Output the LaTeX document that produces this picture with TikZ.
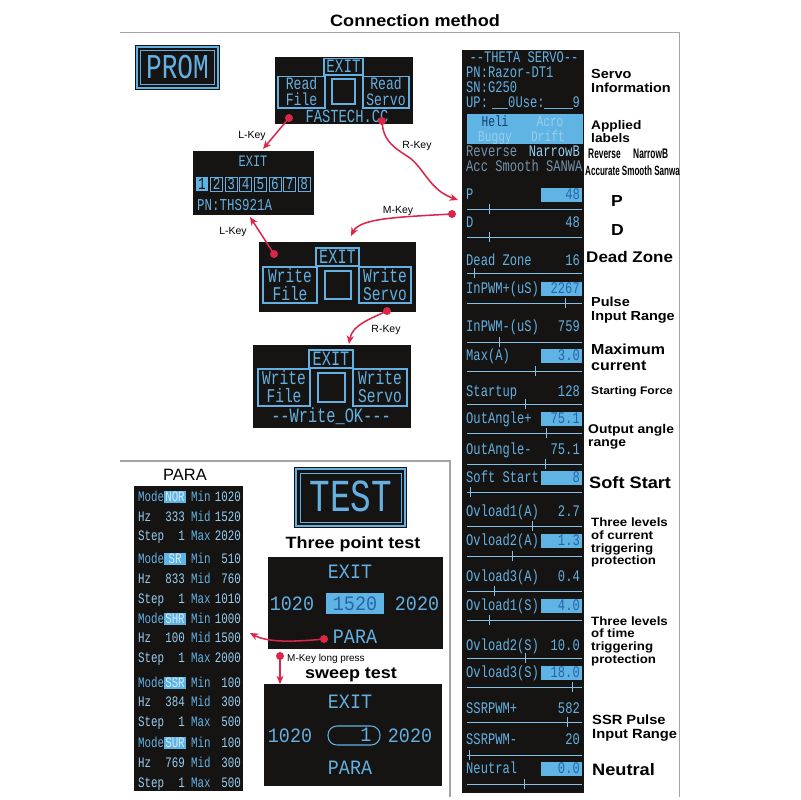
\documentclass[tikz,border=0pt]{standalone}
\usepackage{fontspec}
\setmainfont{Liberation Sans}
\newfontfamily\lblfont[FakeStretch=1.1]{Liberation Sans}
\newfontfamily\narrowfont[FakeStretch=0.6]{Liberation Sans}
\newfontfamily\scrfont[FakeStretch=0.75,Ligatures=TeXOff]{Liberation Mono}
\newfontfamily\scrwide[FakeStretch=0.9,Ligatures=TeXOff]{Liberation Mono}
\usetikzlibrary{arrows.meta}
\newcommand\px[1]{\fontsize{\dimexpr #1pt*85/100\relax}{\dimexpr #1pt\relax}\selectfont}
\newcommand\cc[1]{\raisebox{-0.34em}[0pt][0pt]{#1}}
\newcommand\cm[1]{\raisebox{-0.30em}[0pt][0pt]{#1}}
\definecolor{scrbg}{RGB}{22,20,18}
\definecolor{scrblue}{RGB}{100,176,226}
\definecolor{hlblue}{RGB}{95,180,228}
\definecolor{hltext}{RGB}{40,100,170}
\definecolor{modetext}{RGB}{210,235,250}
\definecolor{navy}{RGB}{25,60,110}
\definecolor{faint}{RGB}{155,205,235}
\definecolor{dimblue}{RGB}{115,145,170}
\definecolor{bright}{RGB}{150,205,240}
\definecolor{keyred}{RGB}{218,38,72}
\definecolor{framec}{RGB}{165,165,165}
\begin{document}
\begin{tikzpicture}[x=0.3mm,y=-0.3mm,
  sline/.style={draw=scrblue, line width=0.9pt},
  st/.style={inner sep=0pt, text=scrblue},
  lbl/.style={inner sep=0pt, anchor=base west, text=black, font=\lblfont\bfseries},
  key/.style={draw=keyred, line width=1.3pt, -{Stealth[length=7pt,width=6pt,inset=2pt]}},
  keylbl/.style={inner sep=0pt, anchor=base, font=\px{10.5}},
  framel/.style={draw=framec, line width=0.9pt}]
\fill[white] (0,0) rectangle (800,800);
\useasboundingbox (0,0) rectangle (800,800);

% title and frames
\node[lbl, anchor=base] (title) at (415,21) {\px{16.5}\cc{Connection method}};
\draw[framel] (120,32.5) -- (679.5,32.5) -- (679.5,797);
\draw[framel] (120,461) -- (450,461) -- (450,797);

% PROM
\fill[scrbg] (135,45) rectangle (220,90);
\draw[sline, line width=1.2pt] (137,47) rectangle (218,88);
\draw[sline, line width=0.8pt] (140.5,50.5) rectangle (214.5,84.5);
\node[st, anchor=base, font=\scrfont\px{35}] (prom) at (177.5,68) {\cm{PROM}};

% Read screen
\fill[scrbg] (275,57) rectangle (413,124);
\draw[sline] (324,58.5) rectangle (363,75);
\draw[sline] (278,76.5) rectangle (325,108);
\draw[sline] (332,79) rectangle (355,104);
\draw[sline] (363,76.5) rectangle (409,108);
\node[st,anchor=base,font=\scrfont\px{19}] (rexit) at (343.5,66.5) {\cm{EXIT}};
\node[st,anchor=base,font=\scrfont\px{17.5}] (rread1) at (301.5,84) {\cm{Read}};
\node[st,anchor=base,font=\scrfont\px{17.5}] (rfile) at (301.5,100.5) {\cm{File}};
\node[st,anchor=base,font=\scrfont\px{17.5}] (rread2) at (386,84) {\cm{Read}};
\node[st,anchor=base,font=\scrfont\px{17.5}] (rservo) at (386,100.5) {\cm{Servo}};
\node[st,anchor=base,font=\scrfont\px{18.5}] (rfast) at (347,116.5) {\cm{FASTECH.CC}};

% number screen
\fill[scrbg] (193,151) rectangle (314,215);
\node[st,anchor=base,font=\scrfont\px{16}] (nexit) at (253,162) {\cm{EXIT}};
\foreach \i in {1,...,8} {
  \pgfmathsetmacro\bx{196+(\i-1)*14.6}
  \ifnum\i=1
    \fill[hlblue] (\bx,177) rectangle ++(12,14);
    \node[st,anchor=base,font=\scrfont\px{17},text=scrbg] (nb\i) at (\bx+6,184) {\cm{\i}};
  \else
    \draw[sline, line width=0.8pt] (\bx,177) rectangle ++(12,14);
    \node[st,anchor=base,font=\scrfont\px{17}] (nb\i) at (\bx+6,184) {\cm{\i}};
  \fi
}
\node[st,anchor=base west,font=\scrfont\px{16.7}] (npn) at (197,206) {\cm{PN:THS921A}};

% Write screen
\fill[scrbg] (259,242) rectangle (416,312);
\draw[sline] (316,248) rectangle (359,266);
\draw[sline] (263,267) rectangle (317,303);
\draw[sline] (325,271) rectangle (351,299);
\draw[sline] (359,267) rectangle (411,303);
\node[st,anchor=base,font=\scrfont\px{20.5}] (wexit) at (337.5,257) {\cm{EXIT}};
\node[st,anchor=base,font=\scrfont\px{19.5}] (wwrite1) at (290,277) {\cm{Write}};
\node[st,anchor=base,font=\scrfont\px{19.5}] (wfile) at (290,295) {\cm{File}};
\node[st,anchor=base,font=\scrfont\px{19.5}] (wwrite2) at (385,277) {\cm{Write}};
\node[st,anchor=base,font=\scrfont\px{19.5}] (wservo) at (385,295) {\cm{Servo}};

% Write OK screen
\fill[scrbg] (253,345) rectangle (411,428);
\draw[sline] (309,350) rectangle (353,368);
\draw[sline] (258,369) rectangle (310,406);
\draw[sline] (318,373) rectangle (345,402);
\draw[sline] (353,369) rectangle (407,406);
\node[st,anchor=base,font=\scrfont\px{20.5}] (oexit) at (331,359) {\cm{EXIT}};
\node[st,anchor=base,font=\scrfont\px{19.5}] (owrite1) at (284,378.5) {\cm{Write}};
\node[st,anchor=base,font=\scrfont\px{19.5}] (ofile) at (284,397) {\cm{File}};
\node[st,anchor=base,font=\scrfont\px{19.5}] (owrite2) at (380,378.5) {\cm{Write}};
\node[st,anchor=base,font=\scrfont\px{19.5}] (oservo) at (380,397) {\cm{Servo}};
\node[st,anchor=base,font=\scrfont\px{20.5}] (ook) at (331,416.5) {\cm{--Write\_OK---}};

% right column screen
\fill[scrbg] (462,50) rectangle (584,793);
\node[st,anchor=base,font=\scrfont\px{16.2}] (tth) at (524,58) {\cm{--THETA SERVO--}};
\node[st,anchor=base west,font=\scrfont\px{16.2}] (tpn) at (466,73) {\cm{PN:Razor-DT1}};
\node[st,anchor=base west,font=\scrfont\px{16.2}] (tsn) at (466,88) {\cm{SN:G250}};
\node[st,anchor=base west,font=\scrfont\px{16.2}] (tup) at (466,103) {\cm{UP:}};
\node[st,anchor=base west,font=\scrfont\px{16.2}] (tuse) at (508,103) {\cm{0Use:}};
\node[st,anchor=base east,font=\scrfont\px{16.2}] (tnine) at (580,103) {\cm{9}};
\draw[scrblue, line width=0.7pt] (492,108.5) -- (508,108.5) (544,108.5) -- (573,108.5);
\fill[hlblue] (467,114) rectangle (583,144);
\node[st,anchor=base,font=\scrfont\px{15},text=navy] (theli) at (495,122) {\cm{Heli}};
\node[st,anchor=base,font=\scrfont\px{15},text=faint] (tacro) at (550,122) {\cm{Acro}};
\node[st,anchor=base,font=\scrfont\px{15},text=faint] (tbug) at (495,137) {\cm{Buggy}};
\node[st,anchor=base,font=\scrfont\px{15},text=faint] (tdrift) at (548,137) {\cm{Drift}};
\node[st,anchor=base west,font=\scrfont\px{16.2},text=dimblue] (trev) at (466,152) {\cm{Reverse}};
\node[st,anchor=base east,font=\scrfont\px{16.2},text=bright] (tnar) at (580,152) {\cm{NarrowB}};
\node[st,anchor=base west,font=\scrfont\px{16.2},text=dimblue] (tacc) at (466,166.5) {\cm{Acc Smooth SANWA}};

\foreach \l/\v/\h/\y/\s/\t [count=\k] in {
  P/48/1/195/209/489, D/48/0/223/237/489, Dead Zone/16/0/261/273/474,
  InPWM+(uS)/2267/1/289/303/565, InPWM-(uS)/759/0/327/342/499,
  Max(A)/3.0/1/356/371/535, Startup/128/0/392/404/525,
  OutAngle+/75.1/1/419/433/546, OutAngle-/75.1/0/450/464/545,
  Soft Start/8/1/478/492/470, Ovload1(A)/2.7/0/512/526/532,
  Ovload2(A)/1.3/1/541/556/512, Ovload3(A)/0.4/0/577/591/494,
  Ovload1(S)/4.0/1/606/620/489, Ovload2(S)/10.0/0/646/658/525,
  Ovload3(S)/18.0/1/673/687/572, SSRPWM+/582/0/709/722/567,
  SSRPWM-/20/0/740/755/469, Neutral/0.0/1/769/784/524} {
  \node[st,anchor=base west,font=\scrfont\px{16.2}] (rowl\k) at (466,\y) {\cm{\l}};
  \ifnum\h=1
    \fill[hlblue] (541,\y-7) rectangle (582,\y+7);
    \node[st,anchor=base east,font=\scrfont\px{16.2},text=hltext] (rowv\k) at (580,\y) {\cm{\v}};
  \else
    \node[st,anchor=base east,font=\scrfont\px{16.2}] (rowv\k) at (580,\y) {\cm{\v}};
  \fi
  \draw[scrblue!80, line width=0.8pt] (467,\s) -- (582,\s) (\t,\s-5) -- (\t,\s+5);
}

% right labels
\node[lbl] (lserv) at (591,74) {\px{13.2}\cc{Servo}};
\node[lbl] (linfo) at (591,88) {\px{13.2}\cc{Information}};
\node[lbl] (lapp) at (591,125) {\px{12.5}\cc{Applied}};
\node[lbl] (llab) at (591,138) {\px{12.5}\cc{labels}};
\node[inner sep=0pt,anchor=base west,font=\narrowfont\bfseries] (lrev) at (588,154) {\px{14}\cc{Reverse}};
\node[inner sep=0pt,anchor=base west,font=\narrowfont\bfseries] (lnar) at (633,154) {\px{14}\cc{NarrowB}};
\node[inner sep=0pt,anchor=base west,font=\narrowfont\bfseries] (lacc) at (585,171) {\px{13.5}\cc{Accurate Smooth Sanwa}};
\node[lbl] (lp) at (611,201) {\px{16}\cc{P}};
\node[lbl] (ld) at (611,230) {\px{16}\cc{D}};
\node[lbl] (ldz) at (586,257) {\px{15.5}\cc{Dead Zone}};
\node[lbl] (lpul) at (591,302) {\px{13.2}\cc{Pulse}};
\node[lbl] (linr) at (591,316) {\px{13.2}\cc{Input Range}};
\node[lbl] (lmax) at (591,350) {\px{14.6}\cc{Maximum}};
\node[lbl] (lcur) at (591,366) {\px{14.6}\cc{current}};
\node[lbl] (lsf) at (591,391) {\px{11}\cc{Starting Force}};
\node[lbl] (loa) at (588,429) {\px{12.7}\cc{Output angle}};
\node[lbl] (lrng) at (588,442) {\px{12.7}\cc{range}};
\node[lbl] (lss) at (589,483) {\px{16.6}\cc{Soft Start}};
\node[lbl] (lc1) at (591,522) {\px{12.1}\cc{Three levels}};
\node[lbl] (lc2) at (591,535) {\px{12.1}\cc{of current}};
\node[lbl] (lc3) at (591,548) {\px{12.1}\cc{triggering}};
\node[lbl] (lc4) at (591,560) {\px{12.1}\cc{protection}};
\node[lbl] (lt1) at (591,621) {\px{12.1}\cc{Three levels}};
\node[lbl] (lt2) at (591,633) {\px{12.1}\cc{of time}};
\node[lbl] (lt3) at (591,646) {\px{12.1}\cc{triggering}};
\node[lbl] (lt4) at (591,659) {\px{12.1}\cc{protection}};
\node[lbl] (lssr) at (592,720) {\px{13.4}\cc{SSR Pulse}};
\node[lbl] (lssr2) at (592,734) {\px{13.4}\cc{Input Range}};
\node[lbl] (lneu) at (592,770) {\px{16.6}\cc{Neutral}};

% PARA
\node[inner sep=0pt,anchor=base] (paralbl) at (185,475) {\px{16.5}\cc{PARA}};
\fill[scrbg] (134,486) rectangle (243,791);
\foreach \m/\mn/\hz/\md/\mx/\ya/\yb/\yc [count=\g] in {
  NOR/1020/333/1520/2020/497/517/536, SR/510/833/760/1010/559/579/599,
  SHR/1000/100/1500/2000/619/638/658, SSR/100/384/300/500/683/702/722,
  SUR/100/769/300/500/743/763/783} {
  \fill[hlblue] (164,\ya-6) rectangle (186,\ya+6);
  \node[st,anchor=base west,font=\scrfont\px{14.5}] (pmode\g) at (138,\ya) {\cm{Mode}};
  \node[st,anchor=base,font=\scrfont\px{14.5},text=modetext] (pmv\g) at (175,\ya) {\cm{\m}};
  \node[st,anchor=base west,font=\scrfont\px{14.5}] (pmin\g) at (191,\ya) {\cm{Min}};
  \node[st,anchor=base east,font=\scrfont\px{14.5},text=bright] (pminv\g) at (241,\ya) {\cm{\mn}};
  \node[st,anchor=base west,font=\scrfont\px{14.5},text=bright] (phz\g) at (138,\yb) {\cm{Hz}};
  \node[st,anchor=base east,font=\scrfont\px{14.5},text=bright] (phzv\g) at (185,\yb) {\cm{\hz}};
  \node[st,anchor=base west,font=\scrfont\px{14.5}] (pmid\g) at (191,\yb) {\cm{Mid}};
  \node[st,anchor=base east,font=\scrfont\px{14.5},text=bright] (pmidv\g) at (241,\yb) {\cm{\md}};
  \node[st,anchor=base west,font=\scrfont\px{14.5},text=bright] (pstep\g) at (138,\yc) {\cm{Step}};
  \node[st,anchor=base east,font=\scrfont\px{14.5},text=bright] (pstepv\g) at (185,\yc) {\cm{1}};
  \node[st,anchor=base west,font=\scrfont\px{14.5}] (pmax\g) at (191,\yc) {\cm{Max}};
  \node[st,anchor=base east,font=\scrfont\px{14.5},text=bright] (pmaxv\g) at (241,\yc) {\cm{\mx}};
}

% TEST
\fill[scrbg] (294,467) rectangle (407,528);
\draw[sline, line width=1.2pt] (296,469) rectangle (405,526);
\draw[sline, line width=0.8pt] (300,473) rectangle (401,522);
\node[st,anchor=base,font=\scrfont\px{46}] (test) at (351,497.5) {\cm{TEST}};

% three point test
\node[lbl,anchor=base] (l3pt) at (353,543) {\px{16.4}\cc{Three point test}};
\fill[scrbg] (268,557) rectangle (443,649);
\node[st,anchor=base,font=\scrwide\px{20.5}] (texit) at (350,572) {\cm{EXIT}};
\node[st,anchor=base,font=\scrwide\px{20.5}] (t1020) at (292,604) {\cm{1020}};
\fill[hlblue] (326,593) rectangle (384,614);
\node[st,anchor=base,font=\scrwide\px{20.5},text=hltext] (t1520) at (355,604) {\cm{1520}};
\node[st,anchor=base,font=\scrwide\px{20.5}] (t2020) at (417,604) {\cm{2020}};
\node[st,anchor=base,font=\scrwide\px{20.5}] (tpara) at (355,637) {\cm{PARA}};

% sweep test
\node[lbl,anchor=base] (lsw) at (351,673) {\px{16.4}\cc{sweep test}};
\fill[scrbg] (264,684) rectangle (442,786);
\node[st,anchor=base,font=\scrwide\px{20.5}] (sexit) at (350,702) {\cm{EXIT}};
\node[st,anchor=base,font=\scrwide\px{20.5}] (s1020) at (290,736) {\cm{1020}};
\draw[sline, rounded corners=2.7mm] (328,726) rectangle (380,745);
\node[st,anchor=base,font=\scrwide\px{20.5}] (sone) at (366,735) {\cm{1}};
\node[st,anchor=base,font=\scrwide\px{20.5}] (s2020) at (410,736) {\cm{2020}};
\node[st,anchor=base,font=\scrwide\px{20.5}] (spara) at (350,768) {\cm{PARA}};

% connectors
\coordinate (dL1) at (289,118); \coordinate (tL1) at (263,149);
\coordinate (dR1) at (382,121); \coordinate (tR1) at (458,200);
\coordinate (dM) at (452,214);  \coordinate (tM) at (351,236);
\coordinate (dL2) at (274,254); \coordinate (tL2) at (250,217);
\coordinate (dR2) at (387,311); \coordinate (tR2) at (349,344);
\coordinate (dP) at (324,639);  \coordinate (tP) at (250,633);
\coordinate (dLP) at (280,656); \coordinate (tLP) at (280,684);
\draw[key] (dL1) -- (tL1);
\draw[key] (dR1) .. controls (383,142) and (395,148) .. (410,158) .. controls (425,170) and (430,190) .. (tR1);
\draw[key] (dM) .. controls (400,217) and (360,218) .. (tM);
\draw[key] (dL2) -- (tL2);
\draw[key] (dR2) .. controls (372,318) and (352,325) .. (tR2);
\draw[key] (dP) .. controls (285,643) and (265,641) .. (tP);
\draw[key] (dLP) -- (tLP);
\foreach \d in {dL1,dR1,dM,dL2,dR2,dP,dLP} \fill[keyred] (\d) circle[radius=1.2mm];
\node[keylbl] (kL1) at (252,135) {\cc{L-Key}};
\node[keylbl] (kR1) at (417,145) {\cc{R-Key}};
\node[keylbl] (kM) at (398,210) {\cc{M-Key}};
\node[keylbl] (kL2) at (233,231) {\cc{L-Key}};
\node[keylbl] (kR2) at (386,329) {\cc{R-Key}};
\node[keylbl,anchor=base west] (kLP) at (287,658) {\px{10}\cc{M-Key long press}};
\end{tikzpicture}
\end{document}
